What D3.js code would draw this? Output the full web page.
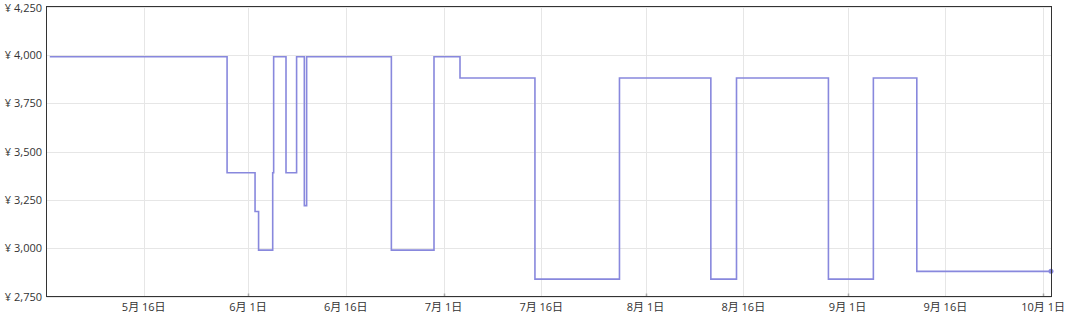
<!DOCTYPE html>
<html>
<head>
<meta charset="utf-8">
<script src="https://cdn.jsdelivr.net/npm/d3@7"></script>
<style>
  html, body { margin: 0; padding: 0; background: #fff; }
  svg { display: block; }
  text { font-family: "Open Sans", "Noto Sans CJK JP", sans-serif; font-size: 11px; fill: #333; }
</style>
</head>
<body>
<svg id="chart" width="1065" height="314"></svg>
<script>
// ---- data ----
const changeTimes = [
  "2024-05-01T14:00", "2024-05-28T19:00", "2024-06-02T02:00", "2024-06-02T15:00",
  "2024-06-04T19:00", "2024-06-04T22:30", "2024-06-06T20:00", "2024-06-08T11:00",
  "2024-06-09T15:30", "2024-06-10T00:00", "2024-06-23T00:00", "2024-06-29T13:00",
  "2024-07-03T12:45", "2024-07-15T00:45", "2024-07-28T00:00", "2024-08-11T00:30",
  "2024-08-14T23:00", "2024-08-29T01:30", "2024-09-04T23:00", "2024-09-11T15:00",
  "2024-10-02T05:00"
];
const prices = [
  3990, 3390, 3190, 2990,
  3390, 3990, 3390, 3990,
  3220, 3990, 2990, 3990,
  3880, 2840, 3880, 2840,
  3880, 2840, 3880, 2880,
  2880
];
const yTicks = [2750, 3000, 3250, 3500, 3750, 4000, 4250];
const xTickDates = [
  "2024-05-16", "2024-06-01", "2024-06-16", "2024-07-01", "2024-07-16", "2024-08-01",
  "2024-08-16", "2024-09-01", "2024-09-16", "2024-10-01"
];
const monthStarts = ["2024-06-01", "2024-07-01", "2024-08-01", "2024-09-01", "2024-10-01"];
const xDomain = ["2024-05-01T02:00", "2024-10-02T07:00"];
const yDomain = [2750, 4250];

// ---- drawing ----
const parse = s => new Date(s + (s.length === 10 ? "T00:00:00Z" : ":00Z"));
const svg = d3.select("#chart");
const L = 46.5, R = 1051.5, T = 6.5, B = 296.5;

const x = d3.scaleUtc().domain(xDomain.map(parse)).range([L, R]);
const y = d3.scaleLinear().domain(yDomain).range([B, T]);

const data = changeTimes.map((t, i) => ({ t: parse(t), v: prices[i] }));

// grid
svg.append("g").selectAll("line").data(yTicks).join("line")
  .attr("x1", L).attr("x2", R)
  .attr("y1", d => Math.round(y(d)) + 0.5).attr("y2", d => Math.round(y(d)) + 0.5)
  .attr("stroke", "#e6e6e6").attr("stroke-width", 1);
svg.append("g").selectAll("line").data(xTickDates.map(parse)).join("line")
  .attr("x1", d => Math.round(x(d)) + 0.5).attr("x2", d => Math.round(x(d)) + 0.5)
  .attr("y1", T).attr("y2", B)
  .attr("stroke", "#e6e6e6").attr("stroke-width", 1);

// month markers
svg.append("g").selectAll("line").data(monthStarts.map(parse)).join("line")
  .attr("x1", d => Math.round(x(d)) + 0.5).attr("x2", d => Math.round(x(d)) + 0.5)
  .attr("y1", B - 3).attr("y2", B)
  .attr("stroke", "#aaa").attr("stroke-width", 1.5);

// line
const line = d3.line().x(d => x(d.t)).y(d => y(d.v)).curve(d3.curveStepAfter);
svg.append("path").datum(data)
  .attr("d", line).attr("fill", "none")
  .attr("stroke", "#8888dd").attr("stroke-width", 1.6);

const last = data[data.length - 1];
svg.append("circle").attr("cx", x(last.t)).attr("cy", y(last.v)).attr("r", 2.5)
  .attr("fill", "#8888dd");

// border
svg.append("rect").attr("x", L).attr("y", T).attr("width", R - L).attr("height", B - T)
  .attr("fill", "none").attr("stroke", "#333").attr("stroke-width", 1);

// y labels
const fmt = d3.format(",");
svg.append("g").selectAll("text").data(yTicks).join("text")
  .attr("x", 42).attr("y", d => Math.max(y(d) + 4.2, 12))
  .attr("text-anchor", "end")
  .text(d => "¥ " + fmt(d));

// x labels
svg.append("g").selectAll("text").data(xTickDates.map(parse)).join("text")
  .attr("x", d => x(d)).attr("y", 311)
  .attr("text-anchor", "middle")
  .text(d => (d.getUTCMonth() + 1) + "月 " + d.getUTCDate() + "日");
</script>
</body>
</html>
